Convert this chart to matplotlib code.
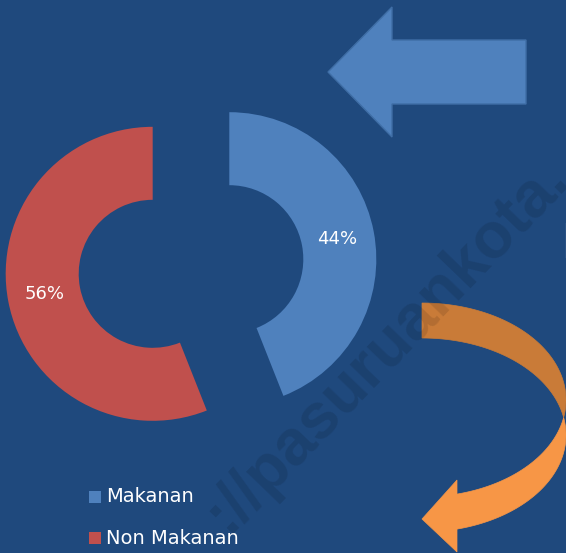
import numpy as np
import matplotlib
matplotlib.use('Agg')
import matplotlib.pyplot as plt
from matplotlib.patches import Polygon, Rectangle

# data
categories = ['Makanan', 'Non Makanan']
shares = [44, 56]
colors = ['#4F81BD', '#C0504D']
watermark = '://pasuruankota.'

bg = '#1F497D'
W, H = 566, 553

fig = plt.figure(figsize=(W / 100, H / 100), dpi=100, facecolor=bg)
ax = fig.add_axes([0, 0, 1, 1])
ax.set_facecolor(bg)

# exploded donut (axes work in pixel units, y pointing down; explode is in pixels)
wedges, texts, autotexts = ax.pie(
    shares, colors=colors, center=(191, 266.5), radius=147,
    startangle=-90, counterclock=True, explode=[39, 39],
    wedgeprops=dict(width=73, linewidth=0),
    autopct=lambda p: '%d%%' % round(p), pctdistance=0.75,
    textprops=dict(color='white', fontsize=13))

ax.set_xlim(0, W)
ax.set_ylim(H, 0)
ax.set_aspect('auto')
ax.axis('off')

# blue block arrow pointing left
arrow = [(328, 72), (392, 7), (392, 40), (526, 40), (526, 104), (392, 104), (392, 137)]
ax.add_patch(Polygon(arrow, closed=True, facecolor='#4F81BD', edgecolor='#3F6EA6', lw=1, zorder=2))

# orange curved arrow, made of two ellipses shifted vertically
cx, a, b = 422, 144, 97
cyA, cyB = 400, 435
phi_i = np.arccos((cyA - (cyA + cyB) / 2) / b)
psi_i = np.pi - phi_i
phi_e = np.pi - np.arcsin(35 / a)

def arc(cy, t0, t1):
    t = np.linspace(t0, t1, 80)
    return np.column_stack([cx + a * np.sin(t), cy - b * np.cos(t)])

upper = np.vstack([arc(cyA, 0, phi_i), arc(cyB, psi_i, 0)])
lower = np.vstack([arc(cyA, phi_i, phi_e), arc(cyB, phi_e, psi_i)])
head = [(422, 519), (457, 480), (457, 552)]
ax.add_patch(Polygon(upper, closed=True, facecolor='#C97B38', edgecolor='#C97B38', lw=0.5, zorder=2))
ax.add_patch(Polygon(lower, closed=True, facecolor='#F79646', edgecolor='#F79646', lw=0.5, zorder=2))
ax.add_patch(Polygon(head, closed=True, facecolor='#F79646', edgecolor='#F79646', lw=0.5, zorder=2))

ax.plot([565.5, 565.5], [223, 257], color='white', lw=0.8, zorder=2)

# legend
for i, (lab, col) in enumerate(zip(categories, colors)):
    y = 497 + 41 * i
    ax.add_patch(Rectangle((89, y - 6), 12, 12, facecolor=col, lw=0, zorder=3))
    ax.text(106, y, lab, color='white', fontsize=14, va='center', ha='left', zorder=3)

# watermark
ax.text(228, 534, watermark, rotation=46, rotation_mode='anchor',
        ha='left', va='baseline', fontsize=46, fontweight='bold',
        family='Liberation Sans', color='black', alpha=0.11, zorder=5, clip_on=True)

plt.savefig('out.png', dpi=100, facecolor=bg)
